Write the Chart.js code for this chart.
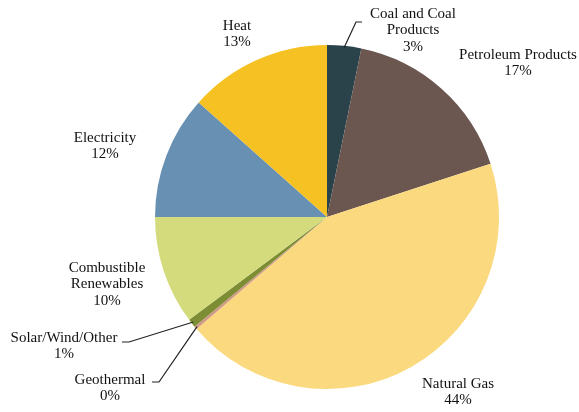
<!DOCTYPE html>
<html>
<head>
<meta charset="utf-8">
<script src="https://cdn.jsdelivr.net/npm/chart.js@4.4.1/dist/chart.umd.min.js"></script>
<style>
  html, body { margin: 0; padding: 0; background: #fff; }
  #wrap { width: 579px; height: 412px; position: relative; }
</style>
</head>
<body>
<div id="wrap"><canvas id="myChart" width="579" height="412"></canvas></div>
<script>
// energy shares, clockwise from 12 o'clock
const categories = ['Coal and Coal Products', 'Petroleum Products', 'Natural Gas', 'Geothermal',
                    'Solar/Wind/Other', 'Combustible Renewables', 'Electricity', 'Heat'];
const labelLines = [['Coal and Coal', 'Products'], ['Petroleum Products'], ['Natural Gas'], ['Geothermal'],
                    ['Solar/Wind/Other'], ['Combustible', 'Renewables'], ['Electricity'], ['Heat']];
const shares = [3.2, 16.8, 43.7, 0.3, 0.8, 10.2, 11.6, 13.4];
const colors = ['#2a434a', '#6b5650', '#fbd97e', '#d19a86', '#7c8d34', '#d4db7c', '#6790b3', '#f6c122'];

// label centre (x, first line y) and optional leader line end
const labelPos = [
    { x: 413, y: 14, leader: [[356, 22], [362, 22]] },
    { x: 518, y: 55 },
    { x: 458, y: 384 },
    { x: 110, y: 380, leader: [[159, 382], [152, 382]] },
    { x: 64, y: 338, leader: [[129, 342], [122, 342]] },
    { x: 107, y: 268 },
    { x: 105, y: 138 },
    { x: 237, y: 26 }
];

const labelPlugin = {
    id: 'sliceLabels',
    afterDraw(chart) {
        const ctx = chart.ctx;
        const meta = chart.getDatasetMeta(0);
        const total = shares.reduce((a, b) => a + b, 0);
        ctx.save();
        ctx.font = '15px "Liberation Serif", "Times New Roman", serif';
        ctx.fillStyle = '#111';
        ctx.textAlign = 'center';
        ctx.textBaseline = 'middle';
        meta.data.forEach((arc, i) => {
            const p = labelPos[i];
            const lines = labelLines[i].concat([Math.round(shares[i] / total * 100) + '%']);
            lines.forEach((t, k) => ctx.fillText(t, p.x, p.y + k * 16.5));
            if (p.leader) {
                const mid = (arc.startAngle + arc.endAngle) / 2;
                const r = arc.outerRadius - 2;
                ctx.beginPath();
                ctx.strokeStyle = '#222';
                ctx.lineWidth = 1.2;
                ctx.moveTo(arc.x + Math.cos(mid) * r, arc.y + Math.sin(mid) * r);
                p.leader.forEach(pt => ctx.lineTo(pt[0], pt[1]));
                ctx.stroke();
            }
        });
        ctx.restore();
    }
};

new Chart(document.getElementById('myChart'), {
    type: 'pie',
    data: {
        labels: categories,
        datasets: [{
            data: shares,
            backgroundColor: colors,
            borderWidth: 0
        }]
    },
    options: {
        responsive: false,
        animation: false,
        layout: { padding: { left: 155, right: 80, top: 45, bottom: 23 } },
        plugins: {
            legend: { display: false },
            tooltip: { enabled: false }
        }
    },
    plugins: [labelPlugin]
});
</script>
</body>
</html>
